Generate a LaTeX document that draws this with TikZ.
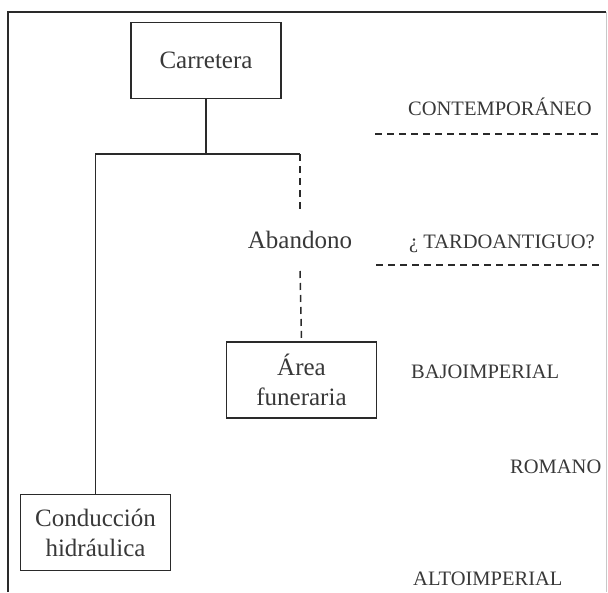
\documentclass[tikz,border=0pt]{standalone}
\usepackage{fontspec}
\setmainfont{Liberation Serif}
\definecolor{ink}{HTML}{2A2A2A}
\definecolor{txt}{HTML}{383838}
\definecolor{faint}{HTML}{C8C8C8}
\begin{document}
\begin{tikzpicture}[x=1pt,y=-1pt,
  box/.style={draw=ink, line width=1.5pt, minimum width=150pt, minimum height=76pt, inner sep=0pt, align=center, font=\fontsize{25}{30}\selectfont, text=txt},
  lbl/.style={font=\fontsize{25}{30}\selectfont, text=txt, inner xsep=0pt, inner ysep=22pt},
  era/.style={font=\fontsize{20.5}{24}\selectfont, text=txt, inner sep=0pt, anchor=base west},
  link/.style={draw=ink, line width=1.5pt},
  dlink/.style={draw=ink, line width=1.5pt, dash pattern=on 7pt off 5pt},
  frameline/.style={draw=ink, line width=1.8pt},
]
\useasboundingbox (0,0) rectangle (608,592);
% frame
\coordinate (fbl) at (8,592);
\coordinate (ftl) at (8,12);
\coordinate (ftr) at (606,12);
\coordinate (fbr) at (606,592);
\draw[frameline] (fbl) -- (ftl) -- (ftr);
\draw[faint, line width=0.8pt] (ftr) -- (fbr);

% nodes
\node[box] (carr) at (206,60.5) {Carretera};
\node[box] (area) at (301.5,380) {Área\\funeraria};
\node[box] (cond) at (95.5,532.5) {Conducción\\hidráulica};
\node[lbl] (aban) at (300,240) {Abandono};

% connectors
\coordinate (jt) at (206,154);
\coordinate (jl) at (95.5,154);
\coordinate (jr) at (300,154);
\draw[link] (carr.south) -- (jt);
\draw[link] (cond.north) -- (jl) -- (jr);
\draw[dlink] (jr) -- (aban.north);
\draw[dlink] (aban.south) -- (area.north);

% periods
\node[era] (contemp) at (408,115) {CONTEMPORÁNEO};
\node[era] (tardo) at (409,248) {¿ TARDOANTIGUO?};
\node[era] (bajo) at (411,378) {BAJOIMPERIAL};
\node[era] (romano) at (510,473) {ROMANO};
\node[era] (alto) at (413,585) {ALTOIMPERIAL};

\coordinate (d1a) at (375,134);
\coordinate (d1b) at (599,134);
\coordinate (d2a) at (376,265);
\coordinate (d2b) at (599,265);
\draw[dlink] (d1a) -- (d1b);
\draw[dlink] (d2a) -- (d2b);
\end{tikzpicture}
\end{document}
